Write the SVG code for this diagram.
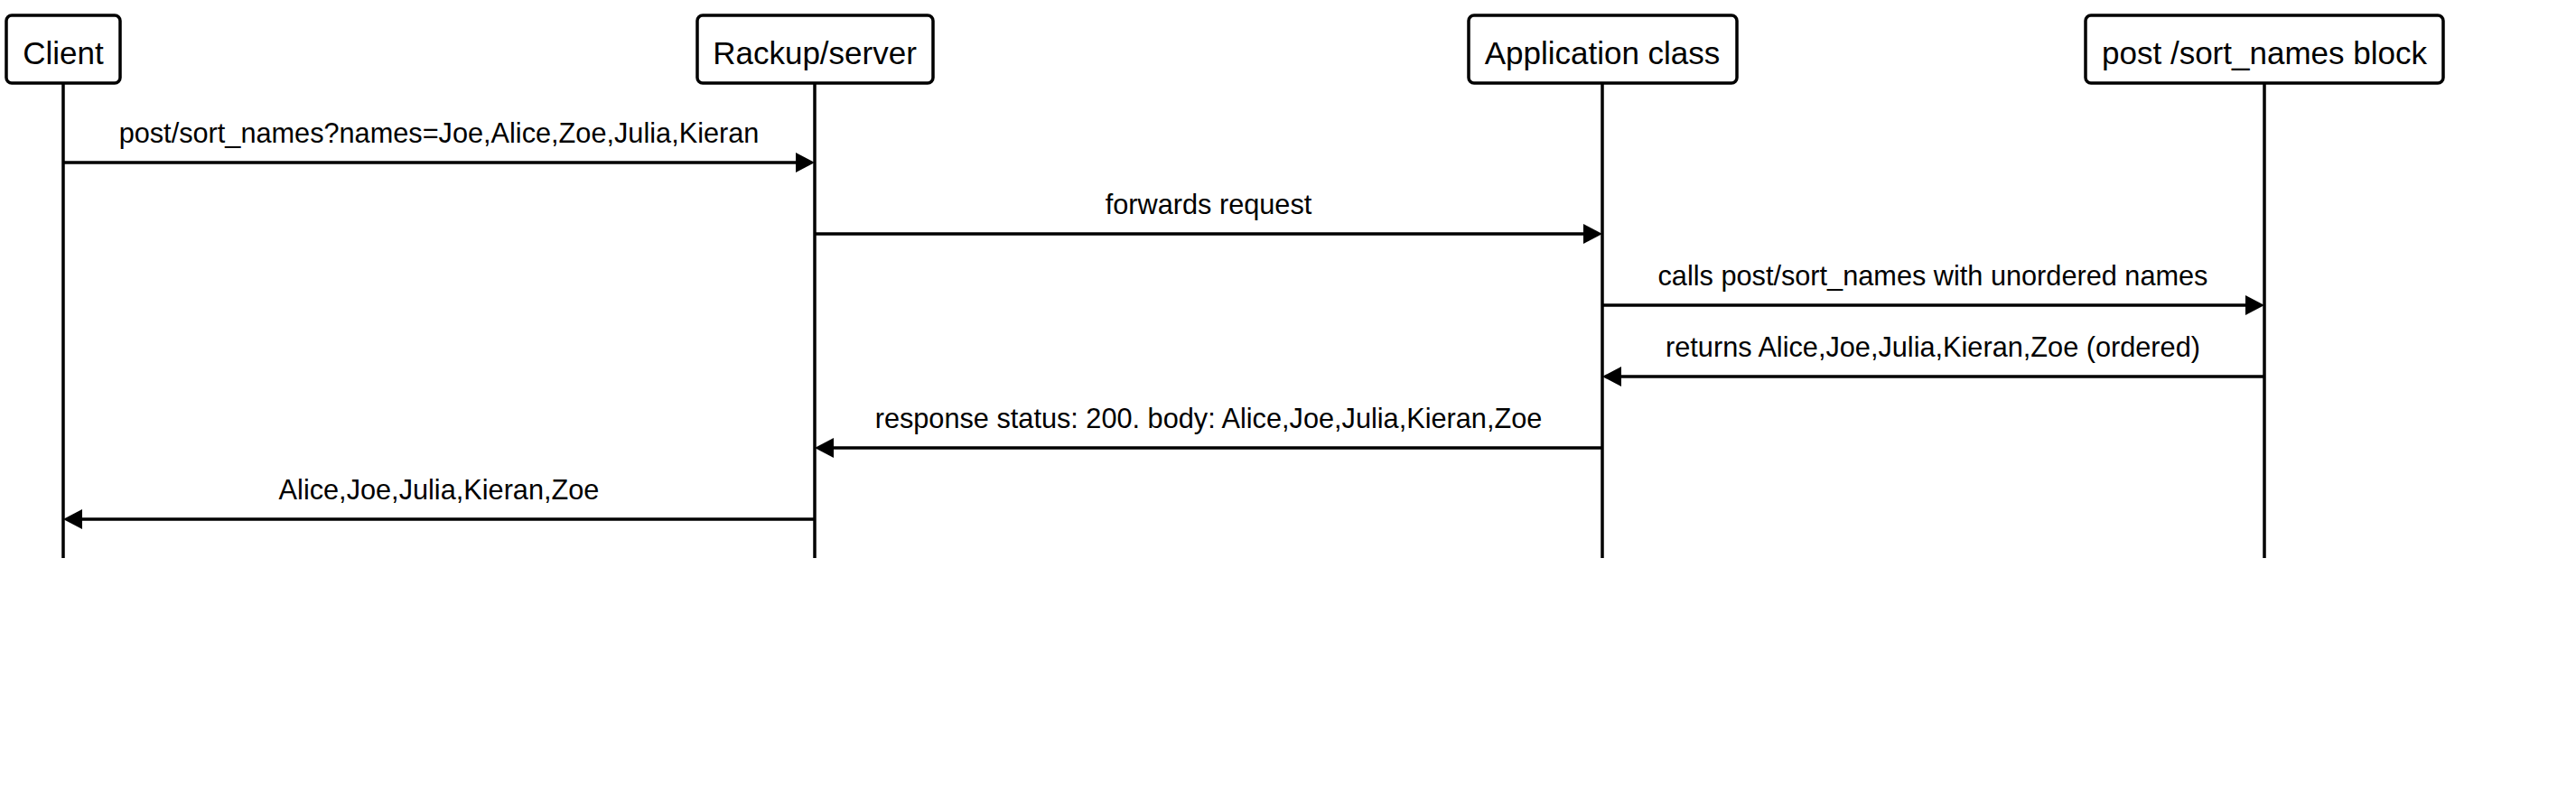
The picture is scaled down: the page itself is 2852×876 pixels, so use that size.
<svg xmlns="http://www.w3.org/2000/svg" width="2852" height="876" viewBox="0 0 2852 876">
<style>
.box{fill:#fff;stroke:#000;stroke-width:3.5}
.life{stroke:#000;stroke-width:3.5}
.msg{stroke:#000;stroke-width:3.5;fill:none}
.ntext{font-family:"Liberation Sans",Arial,sans-serif;font-size:35px;fill:#000;text-anchor:middle}
.mtext{font-family:"Liberation Sans",Arial,sans-serif;font-size:30.7px;fill:#000;text-anchor:middle}
</style>
<defs>
<marker id="ah" markerUnits="userSpaceOnUse" markerWidth="22" markerHeight="22" refX="11" refY="11" orient="auto" viewBox="0 0 22 22">
<path d="M0,0 L21,11 L0,22 z" fill="#000"/>
</marker>
</defs>
<rect width="2852" height="876" fill="#fff"/>
<g id="lifelines">
<line class="life" x1="70" y1="92" x2="70" y2="618"/>
<line class="life" x1="902" y1="92" x2="902" y2="618"/>
<line class="life" x1="1774" y1="92" x2="1774" y2="618"/>
<line class="life" x1="2507" y1="92" x2="2507" y2="618"/>
</g>
<g id="node-client">
<rect class="box" x="7" y="17" width="126" height="75" rx="6"/>
<text class="ntext" x="70" y="71">Client</text>
</g>
<g id="node-rackup">
<rect class="box" x="772" y="17" width="261" height="75" rx="6"/>
<text class="ntext" x="902" y="71">Rackup/server</text>
</g>
<g id="node-app">
<rect class="box" x="1626" y="17" width="297" height="75" rx="6"/>
<text class="ntext" x="1774" y="71">Application class</text>
</g>
<g id="node-block">
<rect class="box" x="2309" y="17" width="396" height="75" rx="6"/>
<text class="ntext" x="2507" y="71">post /sort_names block</text>
</g>
<g id="connectors">
<line class="msg" x1="70" y1="180" x2="892" y2="180" marker-end="url(#ah)"/>
<text class="mtext" x="486" y="158">post/sort_names?names=Joe,Alice,Zoe,Julia,Kieran</text>
<line class="msg" x1="902" y1="259" x2="1764" y2="259" marker-end="url(#ah)"/>
<text class="mtext" x="1338" y="237">forwards request</text>
<line class="msg" x1="1774" y1="338" x2="2497" y2="338" marker-end="url(#ah)"/>
<text class="mtext" x="2140" y="316">calls post/sort_names with unordered names</text>
<line class="msg" x1="2507" y1="417" x2="1784" y2="417" marker-end="url(#ah)"/>
<text class="mtext" x="2140" y="395">returns Alice,Joe,Julia,Kieran,Zoe (ordered)</text>
<line class="msg" x1="1774" y1="496" x2="912" y2="496" marker-end="url(#ah)"/>
<text class="mtext" x="1338" y="474">response status: 200. body: Alice,Joe,Julia,Kieran,Zoe</text>
<line class="msg" x1="902" y1="575" x2="80" y2="575" marker-end="url(#ah)"/>
<text class="mtext" x="486" y="553">Alice,Joe,Julia,Kieran,Zoe</text>
</g>
</svg>
